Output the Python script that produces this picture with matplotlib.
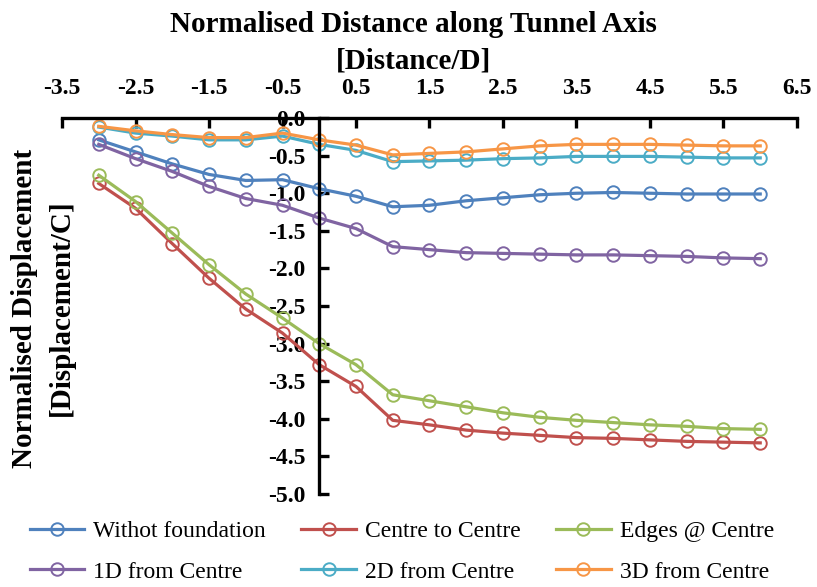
import matplotlib.pyplot as plt

# Normalised distance along the tunnel axis (Distance/D)
distance = [-3.0, -2.5, -2.0, -1.5, -1.0, -0.5, 0.0, 0.5, 1.0, 1.5,
            2.0, 2.5, 3.0, 3.5, 4.0, 4.5, 5.0, 5.5, 6.0]

# Normalised displacement (Displacement/C) for each case
without_foundation = [-0.29, -0.45, -0.61, -0.75, -0.83, -0.82, -0.94, -1.04, -1.18, -1.16,
                      -1.10, -1.06, -1.02, -1.00, -0.99, -1.00, -1.01, -1.01, -1.01]
centre_to_centre = [-0.87, -1.20, -1.67, -2.13, -2.54, -2.86, -3.28, -3.57, -4.02, -4.08,
                    -4.15, -4.19, -4.22, -4.25, -4.26, -4.28, -4.30, -4.31, -4.32]
edges_at_centre = [-0.76, -1.11, -1.53, -1.95, -2.34, -2.66, -3.00, -3.28, -3.68, -3.76,
                   -3.84, -3.92, -3.98, -4.02, -4.05, -4.08, -4.10, -4.13, -4.14]
one_d_from_centre = [-0.35, -0.54, -0.71, -0.91, -1.07, -1.16, -1.33, -1.47, -1.71, -1.75,
                     -1.79, -1.80, -1.81, -1.82, -1.82, -1.83, -1.84, -1.86, -1.87]
two_d_from_centre = [-0.12, -0.20, -0.24, -0.29, -0.29, -0.24, -0.35, -0.43, -0.58, -0.57,
                     -0.56, -0.54, -0.53, -0.51, -0.51, -0.51, -0.52, -0.53, -0.53]
three_d_from_centre = [-0.11, -0.17, -0.22, -0.26, -0.26, -0.20, -0.29, -0.36, -0.49, -0.47,
                       -0.45, -0.41, -0.37, -0.35, -0.35, -0.35, -0.36, -0.37, -0.37]

labels = ['Withot foundation', 'Centre to Centre', 'Edges @ Centre',
          '1D from Centre', '2D from Centre', '3D from Centre']
colours = ['#4F81BD', '#C0504D', '#9BBB59', '#8064A2', '#4BACC6', '#F79646']

x_ticks = [-3.5, -2.5, -1.5, -0.5, 0.5, 1.5, 2.5, 3.5, 4.5, 5.5, 6.5]
y_ticks = [0.0, -0.5, -1.0, -1.5, -2.0, -2.5, -3.0, -3.5, -4.0, -4.5, -5.0]

plt.rcParams['font.family'] = 'Liberation Serif'

fig = plt.figure(figsize=(8.17, 5.87), dpi=100)
ax = fig.add_axes([0.0759, 0.1584, 0.8996, 0.6405])

series = [without_foundation, centre_to_centre, edges_at_centre,
          one_d_from_centre, two_d_from_centre, three_d_from_centre]
lines = []
for values, label, colour in zip(series, labels, colours):
    line, = ax.plot(distance, values, color=colour, linewidth=2.3, marker='o',
                    markersize=9, markerfacecolor='none', markeredgewidth=1.4,
                    markeredgecolor=colour, label=label)
    lines.append(line)

ax.set_xlim(-3.5, 6.5)
ax.set_ylim(-5.0, 0.0)
ax.set_xticks(x_ticks)
ax.set_xticklabels([f'{t:.1f}' for t in x_ticks])
ax.set_yticks(y_ticks)
ax.set_yticklabels([f'{t:.1f}' for t in y_ticks])

# axis cross: x axis along the top, y axis through zero distance
ax.spines['bottom'].set_visible(False)
ax.spines['right'].set_visible(False)
ax.spines['left'].set_position(('data', 0))
for side in ['top', 'left']:
    ax.spines[side].set_linewidth(2.4)
ax.xaxis.tick_top()
ax.tick_params(axis='x', direction='in', length=7, width=2.4, pad=14,
               labelsize=17)
ax.tick_params(axis='y', direction='in', length=7, width=2.4, pad=10,
               labelsize=17)
for lab in ax.get_xticklabels() + ax.get_yticklabels():
    lab.set_fontweight('bold')

fig.text(0.506, 0.958, 'Normalised Distance along Tunnel Axis', ha='center',
         va='center', fontsize=21, fontweight='bold')
fig.text(0.506, 0.896, '[Distance/D]', ha='center', va='center',
         fontsize=21, fontweight='bold')
fig.text(0.030, 0.474, 'Normalised Displacement', ha='center', va='center',
         rotation=90, fontsize=21, fontweight='bold')
fig.text(0.075, 0.476, '[Displacement/C]', ha='center', va='center',
         rotation=90, fontsize=21, fontweight='bold')

# legend filled row by row
order = [0, 3, 1, 4, 2, 5]
fig.legend([lines[i] for i in order], [labels[i] for i in order],
           loc='center', bbox_to_anchor=(0.492, 0.060), ncol=3,
           frameon=False, fontsize=17, handlelength=2.3, columnspacing=1.5,
           handletextpad=0.4, labelspacing=0.8)

fig.savefig('out.png', dpi=100)
